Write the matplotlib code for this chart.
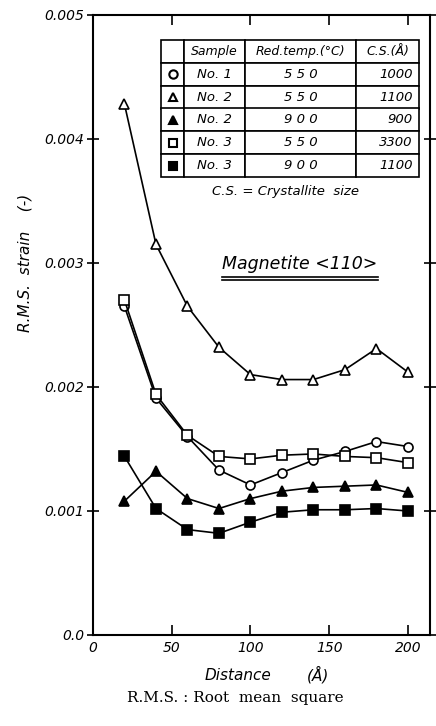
import matplotlib
matplotlib.use('Agg')
import matplotlib.pyplot as plt

# R.M.S. strain of magnetite <110> vs distance
distance = [20, 40, 60, 80, 100, 120, 140, 160, 180, 200]

no1_550 = [2.65, 1.91, 1.60, 1.33, 1.21, 1.31, 1.41, 1.48, 1.56, 1.52]   # open circle
no2_550 = [4.28, 3.15, 2.65, 2.32, 2.10, 2.06, 2.06, 2.14, 2.31, 2.12]   # open triangle
no2_900 = [1.08, 1.32, 1.10, 1.02, 1.10, 1.16, 1.19, 1.20, 1.21, 1.15]   # filled triangle
no3_550 = [2.70, 1.94, 1.61, 1.44, 1.42, 1.45, 1.46, 1.44, 1.43, 1.39]   # open square
no3_900 = [1.44, 1.02, 0.85, 0.82, 0.91, 0.99, 1.01, 1.01, 1.02, 1.00]   # filled square

x_ticks = [0, 50, 100, 150, 200]
y_ticks = [0.0, 0.001, 0.002, 0.003, 0.004, 0.005]
y_tick_labels = ['0.0', '0.001', '0.002', '0.003', '0.004', '0.005']

table_header = ['', 'Sample', 'Red.temp.(°C)', 'C.S.(Å)']
table_samples = ['No. 1', 'No. 2', 'No. 2', 'No. 3', 'No. 3']
table_temps = ['5 5 0', '5 5 0', '9 0 0', '5 5 0', '9 0 0']
table_cs = ['1000', '1100', '900', '3300', '1100']

series = [
    (no1_550, 'o', 'white'),
    (no2_550, '^', 'white'),
    (no2_900, '^', 'black'),
    (no3_550, 's', 'white'),
    (no3_900, 's', 'black'),
]

plt.rcParams['font.family'] = ['DejaVu Sans']

fig = plt.figure(figsize=(4.36, 7.26), dpi=100)
ax = fig.add_axes([93 / 436, 1 - 635 / 726, 337 / 436, 620 / 726])

for vals, mk, fc in series:
    ax.plot(distance, [v * 1e-3 for v in vals], color='black', lw=1.2,
            marker=mk, markersize=6.5, markerfacecolor=fc,
            markeredgecolor='black', markeredgewidth=1.2, zorder=3)

ax.set_xlim(0, 214)
ax.set_ylim(0, 0.005)
ax.set_xticks(x_ticks)
ax.set_xticklabels([str(t) for t in x_ticks], fontstyle='italic', fontsize=10)
ax.set_yticks(y_ticks)
ax.set_yticklabels(y_tick_labels, fontstyle='italic', fontsize=10)

for s in ax.spines.values():
    s.set_linewidth(1.5)
ax.tick_params(axis='x', direction='in', top=True, length=7, width=1.2, pad=4)
ax.tick_params(axis='y', direction='inout', right=True, length=8, width=1.2, pad=2)

# legend table
tbl_left, tbl_right = (161 - 93) / 337, (419 - 93) / 337
tbl_top, tbl_bot = (635 - 40) / 620, (635 - 177) / 620
col_w = [23, 61, 111, 63]
col_w = [w / sum(col_w) for w in col_w]
cell_text = [['', s, t, c] for s, t, c in zip(table_samples, table_temps, table_cs)]
tbl = ax.table(cellText=cell_text, colLabels=table_header, colWidths=col_w,
               cellLoc='center',
               bbox=[tbl_left, tbl_bot, tbl_right - tbl_left, tbl_top - tbl_bot])
tbl.auto_set_font_size(False)
for (r, c), cell in tbl.get_celld().items():
    cell.set_linewidth(1.2)
    cell.get_text().set_fontsize(9.5 if r > 0 else 9)
    cell.get_text().set_fontstyle('italic')
    if c == 3 and r > 0:
        cell.get_text().set_ha('right')
        cell._loc = 'right'

row_h = (tbl_top - tbl_bot) / 6
mk_x = tbl_left + col_w[0] * (tbl_right - tbl_left) / 2
for i, (vals, mk, fc) in enumerate(series):
    ax.plot(mk_x, tbl_top - row_h * (i + 1.5), marker=mk, markersize=6,
            markerfacecolor=fc, markeredgecolor='black', markeredgewidth=1.5,
            transform=ax.transAxes, clip_on=False, zorder=5)

ax.text(0.57, (635 - 192) / 620, 'C.S. = Crystallite  size', transform=ax.transAxes,
        ha='center', va='center', fontsize=9.5, fontstyle='italic')

ax.text(0.614, (635 - 264) / 620, 'Magnetite <110>', transform=ax.transAxes,
        ha='center', va='center', fontsize=12.5, fontstyle='italic')
for yy in [(635 - 277) / 620, (635 - 280) / 620]:
    ax.plot([0.383, 0.846], [yy, yy], color='black', lw=1.2, transform=ax.transAxes)

fig.text(25 / 436, 1 - 263 / 726, 'R.M.S.  strain    (-)', rotation=90,
         ha='center', va='center', fontsize=11, fontstyle='italic')
fig.text(238 / 436, 1 - 675 / 726, 'Distance', ha='center', va='center',
         fontsize=11, fontstyle='italic')
fig.text(318 / 436, 1 - 675 / 726, '(Å)', ha='center', va='center',
         fontsize=11, fontstyle='italic')
fig.text(235 / 436, 1 - 698 / 726, 'R.M.S. : Root  mean  square', ha='center',
         va='center', fontsize=11, family='DejaVu Serif')

fig.savefig('out.png', dpi=100)
